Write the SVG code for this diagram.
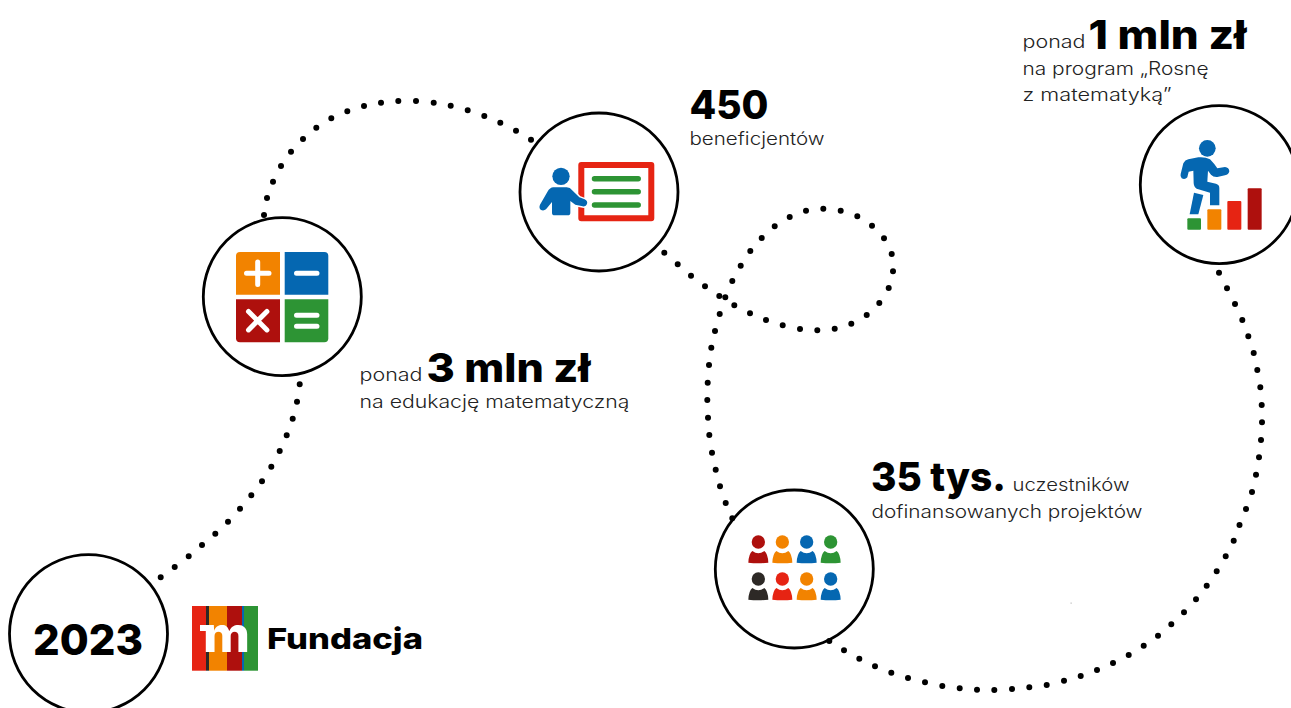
<svg xmlns="http://www.w3.org/2000/svg" xmlns:xlink="http://www.w3.org/1999/xlink" width="1291" height="708" viewBox="0 0 1291 708">
<style>
text{font-family:Inter,"Liberation Sans",sans-serif}
.ring{fill:#fff;stroke:#000;stroke-width:2.8}
.conn{fill:none;stroke:#000;stroke-width:6;stroke-linecap:round}
.big{font-size:40px;font-weight:800;fill:#000}
.sm{font-size:18px;font-weight:300;fill:#222}
.or{fill:#F28300}.bl{fill:#0567B1}.dr{fill:#AE100D}.gr{fill:#2D9434}.re{fill:#E62413}.bk{fill:#2D2926}
.wl{fill:none;stroke:#fff;stroke-width:5;stroke-linecap:round}
.gl{fill:none;stroke:#2D9434;stroke-width:5.5;stroke-linecap:round}
</style>
<defs>
<g id="person"><circle cx="0" cy="0" r="20"/><path d="M-30 62Q-29 36-18 27Q0 40 18 27Q29 36 30 62Q0 66-30 62Z"/></g>
</defs>
<rect width="1291" height="708" fill="#fff"/>
<g id="node-2023">
<circle class="ring" cx="88.500" cy="633.700" r="79"/>
<text x="33" y="655" font-size="43" font-weight="800" fill="#000" textLength="110" lengthAdjust="spacingAndGlyphs">2023</text>
</g>
<g id="logo">
<rect class="re" x="192" y="606" width="14" height="64.700"/>
<rect class="bk" x="206" y="606" width="3" height="64.700"/>
<rect class="or" x="209" y="606" width="18" height="64.700"/>
<rect class="dr" x="227" y="606" width="15" height="64.700"/>
<rect class="bl" x="242" y="606" width="2" height="64.700"/>
<rect class="gr" x="244" y="606" width="14" height="64.700"/>
<rect x="200" y="625" width="8" height="6" fill="#fff"/>
<text x="203" y="651.700" font-size="49" font-weight="800" fill="#fff" textLength="47" lengthAdjust="spacingAndGlyphs">m</text>
<text x="267" y="649.300" font-size="29" font-weight="800" fill="#000" textLength="156" lengthAdjust="spacingAndGlyphs">Fundacja</text>
</g>
<g id="node-calculator">
<circle class="ring" cx="282.300" cy="296.700" r="79"/>
<path class="or" d="M280 252V294.700H236V256a4 4 0 0 1 4-4Z"/>
<path class="bl" d="M284.700 252H324.300a4 4 0 0 1 4 4V294.700H284.700Z"/>
<path class="dr" d="M236 299.300H280V342.300H240a4 4 0 0 1-4-4Z"/>
<path class="gr" d="M284.700 299.300H328.300V338.300a4 4 0 0 1-4 4H284.700Z"/>
<path class="wl" d="M246.500 273.300H269M257.700 262V284.600M296.500 273.300H317M248.500 311.500L266.900 329.900M266.900 311.500L248.500 329.900M296.500 315.300H317M296.500 326.300H317"/>
<text x="359.500" y="381" class="sm" textLength="63" lengthAdjust="spacingAndGlyphs">ponad</text>
<text x="426.500" y="382" class="big" textLength="164" lengthAdjust="spacingAndGlyphs">3 mln zł</text>
<text x="359.500" y="408" class="sm" textLength="270" lengthAdjust="spacingAndGlyphs">na edukację matematyczną</text>
</g>
<g id="node-teacher">
<circle class="ring" cx="599" cy="192" r="79"/>
<rect x="581.300" y="165" width="70" height="53.300" fill="#fff" stroke="#E62413" stroke-width="6" stroke-linejoin="round"/>
<path class="gl" d="M594.500 178.700H638.200M594.500 191.700H638.200M594.500 205H638.200"/>
<g transform="translate(510 100) scale(.33333)">
<circle class="bl" cx="153" cy="229" r="26"/>
<path class="bl" stroke="#fff" stroke-width="9" paint-order="stroke" stroke-linejoin="round" d="M130 262H170Q180 262 188 272L208 292L224 298Q234 303 231 312Q228 321 218 319L196 314L181 303V338Q181 346 173 346H134Q126 346 126 338V306L108 328Q100 334 92 329Q86 323 90 314L112 276Q120 262 130 262Z"/>
</g>
<text x="689.500" y="145" class="sm" textLength="135" lengthAdjust="spacingAndGlyphs">beneficjentów</text>
<text x="689.500" y="119" class="big" textLength="79" lengthAdjust="spacingAndGlyphs">450</text>
</g>
<g id="node-people">
<circle class="ring" cx="794.300" cy="569" r="79"/>
<g transform="translate(710 485) scale(.33333)">
<use xlink:href="#person" href="#person" x="145" y="171" class="dr"/>
<use xlink:href="#person" href="#person" x="217" y="171" class="or"/>
<use xlink:href="#person" href="#person" x="290" y="171" class="bl"/>
<use xlink:href="#person" href="#person" x="362" y="171" class="gr"/>
<use xlink:href="#person" href="#person" x="145" y="282" class="bk"/>
<use xlink:href="#person" href="#person" x="217" y="282" class="re"/>
<use xlink:href="#person" href="#person" x="290" y="282" class="or"/>
<use xlink:href="#person" href="#person" x="362" y="282" class="bl"/>
</g>
<text x="871" y="491" class="big" textLength="135" lengthAdjust="spacingAndGlyphs">35 tys.</text>
<text x="1012.500" y="491" class="sm" textLength="117" lengthAdjust="spacingAndGlyphs">uczestników</text>
<text x="871.500" y="518" class="sm" textLength="271" lengthAdjust="spacingAndGlyphs">dofinansowanych projektów</text>
</g>
<g id="node-stairs">
<circle class="ring" cx="1219.300" cy="184.700" r="79"/>
<g transform="translate(1130 100) scale(.33333)">
<circle class="bl" cx="232" cy="145" r="25"/>
<path class="bl" d="M205 172Q225 170 240 178Q252 190 262 205L285 201Q297 202 298 214Q296 224 285 226L262 231Q250 232 243 224L234 212L232 245L258 251Q268 254 268 264V316H240V278L200 266Q192 262 191 250L190 212L176 215L172 232Q165 240 155 235Q150 230 152 222L160 190Q165 180 175 178Z"/>
<path class="bl" d="M192 278L220 285L205 343H179Z"/>
<rect class="gr" x="172" y="355" width="41" height="34" rx="3"/>
<rect class="or" x="232" y="328" width="42" height="61" rx="3"/>
<rect class="re" x="292" y="303" width="42" height="86" rx="3"/>
<rect class="dr" x="353" y="265" width="42" height="124" rx="3"/>
</g>
<text x="1022.500" y="48" class="sm" textLength="63" lengthAdjust="spacingAndGlyphs">ponad</text>
<text x="1088.500" y="49" class="big" textLength="158" lengthAdjust="spacingAndGlyphs">1 mln zł</text>
<text x="1022.500" y="75" class="sm" textLength="186" lengthAdjust="spacingAndGlyphs">na program „Rosnę</text>
<text x="1022.500" y="101" class="sm" textLength="149" lengthAdjust="spacingAndGlyphs">z matematyką”</text>
</g>
<rect x="1070.600" y="602.600" width="1" height="1" fill="#999"/>
<g id="connectors">
<path class="conn" id="c1" d="M160.700 577.300h.01M174.700 567h.01M188.700 556.300h.01M202 545h.01M215.300 533.700h.01M228 521.700h.01M240 508.700h.01M251.300 495.300h.01M262 481.300h.01M271.300 466.700h.01M279.700 451h.01M286.700 435.300h.01M292.700 418.700h.01M297 401.700h.01M299.700 384.300h.01"/>
<path class="conn" id="c2" d="M264 215h.01M267 198h.01M273 181.700h.01M281 166h.01M291 151.700h.01M303 139h.01M316.300 127.700h.01M331.300 118.300h.01M347.300 111.300h.01M364 106h.01M381 102.700h.01M398.300 101h.01M416 101h.01M433.700 102.700h.01M450.700 105.700h.01M467.700 110.300h.01M484.300 116h.01M500.300 122.700h.01M516 130.700h.01M531 139.700h.01"/>
<path class="conn" id="c3" d="M664.300 252.700h.01M677.700 264.300h.01M691 275.700h.01M705 286.300h.01M719.300 296h.01M734.300 305.300h.01M750 313.300h.01M766 320h.01M782.700 325.300h.01M800 329h.01M817.300 330.300h.01M834.700 328.700h.01M851.300 323.700h.01M866.700 315h.01M879.300 303h.01M888.700 288h.01M893 271.300h.01M891.700 254h.01M884 238.300h.01M872 225.700h.01M857.300 216.300h.01M840.700 210.700h.01M823.300 208.700h.01M806 210.700h.01M789.700 217h.01M774.700 226.300h.01M761.700 238h.01M750.300 251h.01M740.700 265.700h.01M732.300 281h.01M725.300 297.300h.01M719.700 314h.01M715 331h.01M711.300 347.700h.01M709 365h.01M707.700 382.700h.01M707.300 400h.01M708 417.700h.01M709.300 435h.01M712 452.700h.01M715.700 469.700h.01M720 486.300h.01M725.700 503h.01M732.300 518.300h.01"/>
<path class="conn" id="c4" d="M829.300 641h.01M844 650.300h.01M859.300 658.700h.01M875 666.300h.01M891.300 672.700h.01M908 678h.01M925 682.300h.01M942.300 686h.01M959.700 688.300h.01M977 689.700h.01M994.300 690h.01M1012 689h.01M1029.300 687.300h.01M1046.700 685h.01M1064 680.700h.01M1080.700 676h.01M1097 670h.01M1113 663h.01M1128.700 655h.01M1143.700 645.700h.01M1158 635.700h.01M1171.300 624.300h.01M1184 612.300h.01M1196 599.300h.01M1206.700 585.700h.01M1216.700 571.300h.01M1225.700 556.300h.01M1233.700 540.700h.01M1239.500 525h.01M1246 509h.01M1252 492h.01M1256 474.700h.01M1259 457.300h.01M1261 440h.01M1262 422.300h.01M1261.700 405h.01M1260.300 387.300h.01M1257.300 370h.01M1253.700 353h.01M1248.300 336.300h.01M1242.300 320h.01M1235 304h.01M1227 288.300h.01M1219 272.700h.01"/>
</g>
</svg>
